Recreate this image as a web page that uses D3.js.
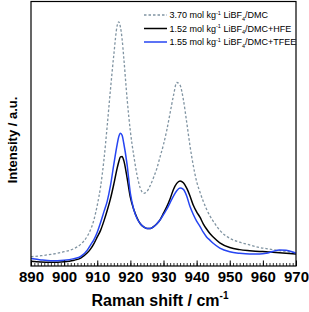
<!DOCTYPE html>
<html>
<head>
<meta charset="utf-8">
<script src="https://cdn.jsdelivr.net/npm/d3@7/dist/d3.min.js"></script>
<style>
  html, body { margin: 0; padding: 0; background: #fff; }
  svg { display: block; font-family: "Liberation Sans", Arial, sans-serif; }
</style>
</head>
<body>
<svg id="chart" width="309" height="312"></svg>
<script>
// Raman shift grid (cm^-1)
const ramanShift = [890, 893, 896, 900, 903, 905, 907, 908, 909, 910, 911, 912, 913, 914, 915, 916, 916.5, 917, 917.5, 918,
  919, 920, 921, 922, 923, 924, 925, 926, 927, 928, 929, 930, 931, 932, 933, 934, 935, 936, 937, 938,
  939, 940, 941, 942, 943, 944, 945, 947, 950, 953, 956, 959, 961, 963, 965, 967, 969, 970];

// 3.70 mol kg-1 LiBF4/DMC (grey dashed)
const seriesDMC = [3.5, 3.9, 4.4, 5.4, 6.6, 8.2, 11.3, 13.8, 17.5, 23, 30, 40, 53, 67, 80, 91, 92.5, 90.5, 86, 79,
  63.5, 51, 42, 34.5, 29.5, 27.5, 28.2, 30.5, 33.5, 37, 41.5, 46, 51.5, 58, 64.5, 69.5, 68.5, 63, 54.5, 45.5,
  38, 32, 28, 24.5, 21.5, 19, 17, 13.5, 10.5, 9, 8, 7, 6.6, 6.2, 5.8, 5.5, 5.2, 5.1];

// 1.52 mol kg-1 LiBF4/DMC+HFE (black)
const seriesHFE = [1.8, 1.5, 1.4, 1.6, 2.2, 3.0, 5, 6.5, 8.5, 11, 13.5, 17, 21, 25.5, 31, 37, 39.5, 41.3, 41.5, 40,
  33.5, 26, 21.5, 18.3, 16, 14.8, 14.2, 14.2, 14.9, 16, 17.6, 20, 22.5, 25.5, 29, 31.3, 32.2, 31.5, 29.5, 26.5,
  23, 20.5, 18.5, 16, 14, 12.3, 11, 8.8, 7, 6.2, 5.8, 5.5, 5.4, 5.2, 5, 4.8, 4.6, 4.5];

// 1.55 mol kg-1 LiBF4/DMC+TFEE (blue)
const seriesTFEE = [2.8, 2.3, 2.0, 2.2, 2.8, 3.6, 6, 8, 10, 12.8, 16.5, 20.5, 24.5, 30.5, 38.5, 46, 49, 50.3, 49.5, 46.5,
  38.5, 27.5, 21.5, 18, 16, 14.8, 14.2, 14.2, 14.8, 16, 17.5, 19.5, 21.5, 24, 26.5, 28.5, 29.5, 29, 26.5, 22.5,
  19.5, 17, 15, 12.8, 11, 9.8, 8.6, 6.8, 5.4, 4.8, 4.5, 4.5, 4.8, 5.5, 6.1, 6, 5.3, 4.8];

const xMajorTicks = [890, 900, 910, 920, 930, 940, 950, 960, 970];
const legendLabels = [
  { main: "3.70 mol kg", sub: "4", rest: "/DMC" },
  { main: "1.52 mol kg", sub: "4", rest: "/DMC+HFE" },
  { main: "1.55 mol kg", sub: "4", rest: "/DMC+TFEE" }
];

const seriesList = [
  { values: seriesDMC, color: "#8094a2", width: 1.3, dash: "2.5,2" },
  { values: seriesHFE, color: "#000000", width: 1.5, dash: null },
  { values: seriesTFEE, color: "#2645f2", width: 1.5, dash: null }
];

const svg = d3.select("#chart");
const plotL = 31, plotR = 296, plotT = 1.5, plotB = 266;

const x = d3.scaleLinear().domain([890, 970]).range([plotL, plotR]);
const y = d3.scaleLinear().domain([0, 100]).range([plotB, 2]);

// curves
const line = d3.line().curve(d3.curveMonotoneX);
seriesList.forEach(s => {
  const pts = ramanShift.map((v, i) => [x(v), y(s.values[i])]);
  svg.append("path")
    .attr("d", line(pts))
    .attr("fill", "none")
    .attr("stroke", s.color)
    .attr("stroke-width", s.width)
    .attr("stroke-dasharray", s.dash)
    .attr("stroke-linejoin", "round");
});

// minor ticks
svg.append("g")
  .attr("transform", `translate(0,${plotB})`)
  .call(d3.axisBottom(x).tickValues(d3.range(890, 971, 1)).tickSize(-3).tickFormat(""))
  .call(g => g.select(".domain").remove())
  .call(g => g.selectAll("line").attr("stroke", "#000").attr("stroke-width", 0.8));

// major ticks + labels
svg.append("g")
  .attr("transform", `translate(0,${plotB})`)
  .call(d3.axisBottom(x).tickValues(xMajorTicks).tickSize(-5.5).tickPadding(5.5).tickFormat(d3.format("d")))
  .call(g => g.select(".domain").remove())
  .call(g => g.selectAll("line").attr("stroke", "#000").attr("stroke-width", 1))
  .call(g => g.selectAll("text")
    .attr("font-family", "'Liberation Sans', Arial, sans-serif")
    .attr("font-size", 15).attr("font-weight", "bold").attr("fill", "#000"));

// frame
svg.append("rect")
  .attr("x", plotL).attr("y", plotT)
  .attr("width", plotR - plotL).attr("height", plotB - plotT)
  .attr("fill", "none").attr("stroke", "#000").attr("stroke-width", 1.2);

// x title
const xt = svg.append("text")
  .attr("x", 160).attr("y", 306)
  .attr("text-anchor", "middle")
  .attr("font-size", 16).attr("font-weight", "bold").attr("fill", "#000");
xt.append("tspan").text("Raman shift / cm");
xt.append("tspan").attr("font-size", 10).attr("dy", -7).text("-1");

// y title
svg.append("text")
  .attr("transform", "translate(16.5,140) rotate(-90)")
  .attr("text-anchor", "middle")
  .attr("font-size", 13).attr("font-weight", "bold").attr("fill", "#000")
  .text("Intensity / a.u.");

// legend
const legY = [15, 28.5, 42];
legendLabels.forEach((L, i) => {
  const s = seriesList[i];
  svg.append("line")
    .attr("x1", 144).attr("x2", 167)
    .attr("y1", legY[i]).attr("y2", legY[i])
    .attr("stroke", s.color).attr("stroke-width", s.width)
    .attr("stroke-dasharray", s.dash);
  const t = svg.append("text")
    .attr("x", 169.5).attr("y", legY[i] + 3.3)
    .attr("font-size", 9).attr("fill", "#000");
  t.append("tspan").text(L.main);
  t.append("tspan").attr("font-size", 5.5).attr("dy", -3.5).text("-1");
  t.append("tspan").attr("dy", 3.5).text(" LiBF");
  t.append("tspan").attr("font-size", 5.5).attr("dy", 2.5).text(L.sub);
  t.append("tspan").attr("dy", -2.5).text(L.rest);
});
</script>
</body>
</html>
